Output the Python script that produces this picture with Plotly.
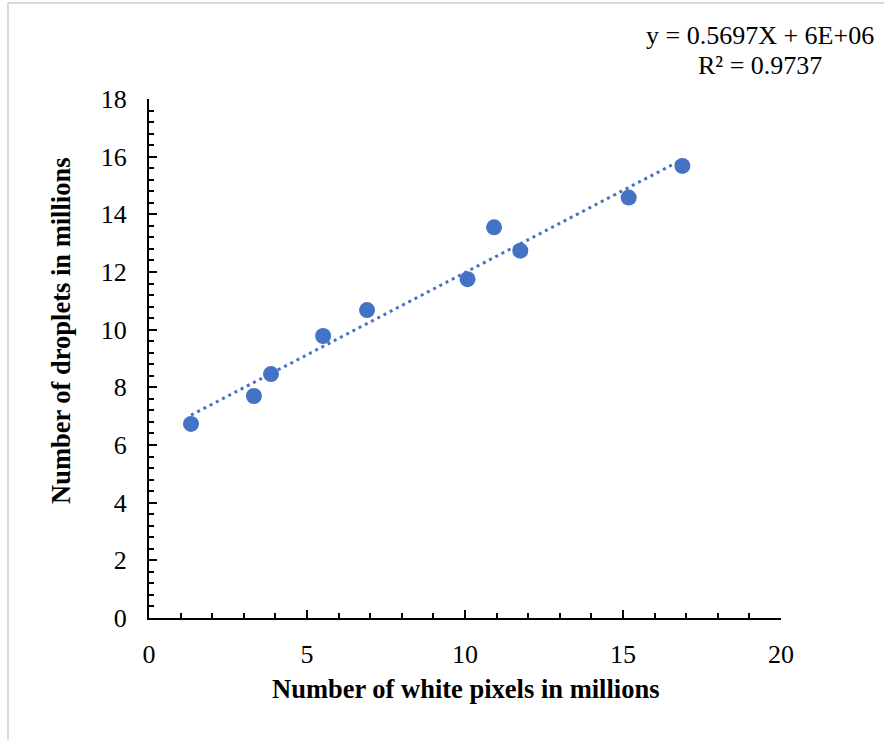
import numpy as np
import plotly.graph_objects as go

# Data (millions)
white_pixels = [1.33, 3.32, 3.86, 5.51, 6.90, 10.08, 10.92, 11.75, 15.18, 16.88]
droplets = [6.73, 7.70, 8.46, 9.78, 10.68, 11.75, 13.55, 12.74, 14.58, 15.68]

x_title = "Number of white pixels in millions"
y_title = "Number of droplets in millions"
eq_line1 = "y = 0.5697X + 6E+06"
eq_line2 = "R² = 0.9737"

BLUE = "#4472C4"
FONT = "Liberation Serif, Times New Roman, serif"
FS = 26.5

W, H = 884, 740
L, R, T, B = 149, 103, 99, 122
PW, PH = W - L - R, H - T - B


def px_x(p):
    return (p - L) / PW


def px_y(p):
    return (H - B - p) / PH


slope, intercept = np.polyfit(white_pixels, droplets, 1)
xs = np.array([min(white_pixels), max(white_pixels)])
ys = slope * xs + intercept

fig = go.Figure()
fig.add_trace(go.Scatter(
    x=list(xs), y=list(ys), mode="lines",
    line=dict(color=BLUE, width=3, dash="3px,4px"),
    hoverinfo="skip", showlegend=False,
))
fig.add_trace(go.Scatter(
    x=white_pixels, y=droplets, mode="markers",
    marker=dict(color=BLUE, size=16, line=dict(width=0)),
    showlegend=False,
))

axis_common = dict(
    showline=True, linecolor="black", linewidth=2,
    ticks="inside", ticklen=8, tickwidth=2, tickcolor="black",
    showgrid=False, zeroline=False,
    tickfont=dict(family=FONT, size=26, color="black"),
)

fig.update_xaxes(
    range=[0, 20], tick0=0, dtick=5,
    minor=dict(dtick=1, ticks="inside", ticklen=5, tickwidth=1.5, tickcolor="black", showgrid=False),
    ticklabelstandoff=12,
    **axis_common,
)
fig.update_yaxes(
    range=[0, 18], tick0=0, dtick=2,
    minor=dict(dtick=0.4, ticks="inside", ticklen=5, tickwidth=1.5, tickcolor="black", showgrid=False),
    ticklabelstandoff=15,
    **axis_common,
)

annotations = [
    dict(text=x_title, x=0.5, y=px_y(689), xref="paper", yref="paper",
         showarrow=False, xanchor="center", yanchor="middle",
         font=dict(family=FONT, size=FS, color="black", weight="bold")),
    dict(text=y_title, x=px_x(61), y=px_y(331), xref="paper", yref="paper",
         showarrow=False, xanchor="center", yanchor="middle", textangle=-90,
         font=dict(family=FONT, size=FS, color="black", weight="bold")),
    dict(text=eq_line1, x=px_x(760), y=px_y(35), xref="paper", yref="paper",
         showarrow=False, xanchor="center", yanchor="middle",
         font=dict(family=FONT, size=26, color="black")),
    dict(text=eq_line2, x=px_x(760), y=px_y(65), xref="paper", yref="paper",
         showarrow=False, xanchor="center", yanchor="middle",
         font=dict(family=FONT, size=26, color="black")),
]

shapes = [
    dict(type="line", xref="paper", yref="paper",
         x0=px_x(8), x1=px_x(8), y0=px_y(3), y1=px_y(745),
         line=dict(color="#d9d9d9", width=2)),
    dict(type="line", xref="paper", yref="paper",
         x0=px_x(8), x1=px_x(890), y0=px_y(3), y1=px_y(3),
         line=dict(color="#d9d9d9", width=2)),
]

fig.update_layout(
    width=W, height=H,
    margin=dict(l=L, r=R, t=T, b=B),
    paper_bgcolor="white", plot_bgcolor="white",
    annotations=annotations, shapes=shapes,
    showlegend=False,
)

fig.write_html("out.html")
